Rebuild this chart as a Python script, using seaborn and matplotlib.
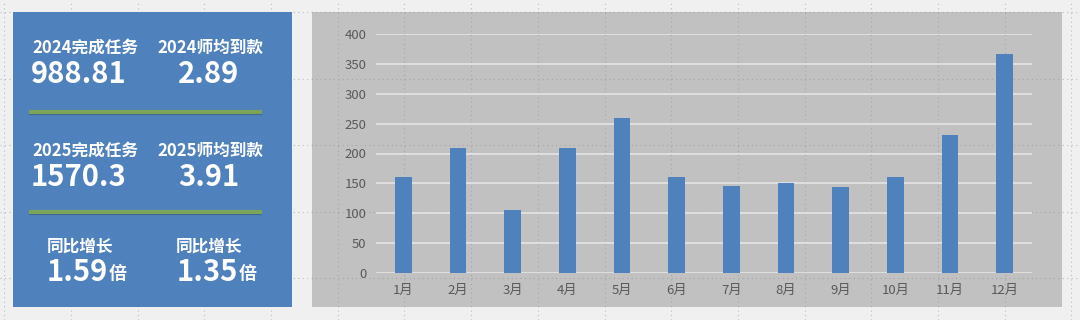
import matplotlib
matplotlib.use("Agg")
import matplotlib.pyplot as plt
from matplotlib.patches import Rectangle
from matplotlib.lines import Line2D
import matplotlib.patheffects as pe
import seaborn as sns
import pandas as pd
import numpy as np

months = ["1月", "2月", "3月", "4月", "5月", "6月", "7月", "8月", "9月", "10月", "11月", "12月"]
values = [160, 210, 105, 210, 260, 160, 145, 150, 144, 160, 231, 367]
y_ticks = [0, 50, 100, 150, 200, 250, 300, 350, 400]

kpi_labels_top = ["2024完成任务", "2024师均到款"]
kpi_values_top = ["988.81", "2.89"]
kpi_labels_mid = ["2025完成任务", "2025师均到款"]
kpi_values_mid = ["1570.3", "3.91"]
growth_labels = ["同比增长", "同比增长"]
growth_values = ["1.59", "1.35"]
growth_unit = "倍"

sns.set_style("white")
plt.rcParams['font.family'] = ['Noto Sans CJK SC', 'DejaVu Sans']

W, H = 1080, 320
fig = plt.figure(figsize=(W / 100, H / 100), dpi=100)
fig.patch.set_facecolor("#f0f0f0")

def fx(px):
    return px / W

def fy(py):
    return 1 - py / H

# chart panel (grey)
fig.add_artist(Rectangle((fx(312), fy(307)), fx(1062) - fx(312), fy(12) - fy(307),
                         transform=fig.transFigure, facecolor="#c1c1c1", edgecolor="none", zorder=-5))

# dotted layout grid
for gx in np.arange(4.2, W, 66.7):
    fig.add_artist(Line2D([fx(gx), fx(gx)], [0, 1], transform=fig.transFigure,
                          color="#8a8a8a", lw=0.8, ls=(0, (1, 3)), alpha=0.5, zorder=-4))
for gy in np.arange(12.3, H, 66.4):
    fig.add_artist(Line2D([0, 1], [fy(gy), fy(gy)], transform=fig.transFigure,
                          color="#8a8a8a", lw=0.8, ls=(0, (1, 3)), alpha=0.5, zorder=-4))

# blue KPI panel
fig.add_artist(Rectangle((fx(13), fy(307)), fx(292) - fx(13), fy(12) - fy(307),
                         transform=fig.transFigure, facecolor="#4f81bd", edgecolor="none", zorder=-3))

# green separators
for sy in [111.5, 211.5]:
    fig.add_artist(Line2D([fx(29), fx(262)], [fy(sy), fy(sy)], transform=fig.transFigure,
                          color="#7ba35a", lw=3.0, solid_capstyle="butt", zorder=-2,
                          path_effects=[pe.SimpleLineShadow(offset=(0, -1.2), shadow_color="#2f4f6f", alpha=0.6),
                                        pe.Normal()]))

# bar chart
ax = fig.add_axes([fx(376), fy(273), fx(1032) - fx(376), fy(34) - fy(273)])
ax.patch.set_alpha(0)
df = pd.DataFrame({"month": months, "value": values})
sns.barplot(data=df, x="month", y="value", color="#4f81bd", saturation=1, width=0.31,
            linewidth=0, edgecolor="none", ax=ax, zorder=3)
ax.set_ylim(0, 400)
ax.set_xlim(-0.5, 11.5)
ax.set_yticks(y_ticks)
ax.set_yticklabels([str(v) for v in y_ticks])
ax.yaxis.grid(True, color="#e2e2e2", lw=1.3, zorder=0)
ax.set_axisbelow(True)
ax.set_xlabel("")
ax.set_ylabel("")
for s in ax.spines.values():
    s.set_visible(False)
ax.tick_params(axis="both", length=0, colors="#595959", labelsize=9.5)
ax.tick_params(axis="y", pad=7)
ax.tick_params(axis="x", pad=8)

white = "white"
# top block
fig.text(fx(32), fy(48), kpi_labels_top[0], color=white, fontsize=12, fontweight="bold", ha="left", va="center")
fig.text(fx(210), fy(48), kpi_labels_top[1], color=white, fontsize=12, fontweight="bold", ha="center", va="center")
fig.text(fx(31), fy(74), kpi_values_top[0], color=white, fontsize=21, fontweight="bold", ha="left", va="center")
fig.text(fx(209), fy(74), kpi_values_top[1], color=white, fontsize=21, fontweight="bold", ha="center", va="center")
# middle block
fig.text(fx(32), fy(151), kpi_labels_mid[0], color=white, fontsize=12, fontweight="bold", ha="left", va="center")
fig.text(fx(210), fy(151), kpi_labels_mid[1], color=white, fontsize=12, fontweight="bold", ha="center", va="center")
fig.text(fx(31), fy(177), kpi_values_mid[0], color=white, fontsize=21, fontweight="bold", ha="left", va="center")
fig.text(fx(209), fy(177), kpi_values_mid[1], color=white, fontsize=21, fontweight="bold", ha="center", va="center")
# growth block
fig.text(fx(80), fy(247), growth_labels[0], color=white, fontsize=12, fontweight="bold", ha="center", va="center")
fig.text(fx(209), fy(247), growth_labels[1], color=white, fontsize=12, fontweight="bold", ha="center", va="center")
for xl, gv in zip([47, 177], growth_values):
    t = fig.text(fx(xl), fy(272), gv, color=white, fontsize=21, fontweight="bold", ha="left", va="center")
    ax.annotate(growth_unit, xy=(1.0, 0.12), xycoords=t, xytext=(0.5, 0), textcoords="offset points",
                color=white, fontsize=13, fontweight="bold", ha="left", va="bottom",
                annotation_clip=False, clip_on=False)

fig.savefig("out.png", dpi=100, facecolor=fig.get_facecolor())
